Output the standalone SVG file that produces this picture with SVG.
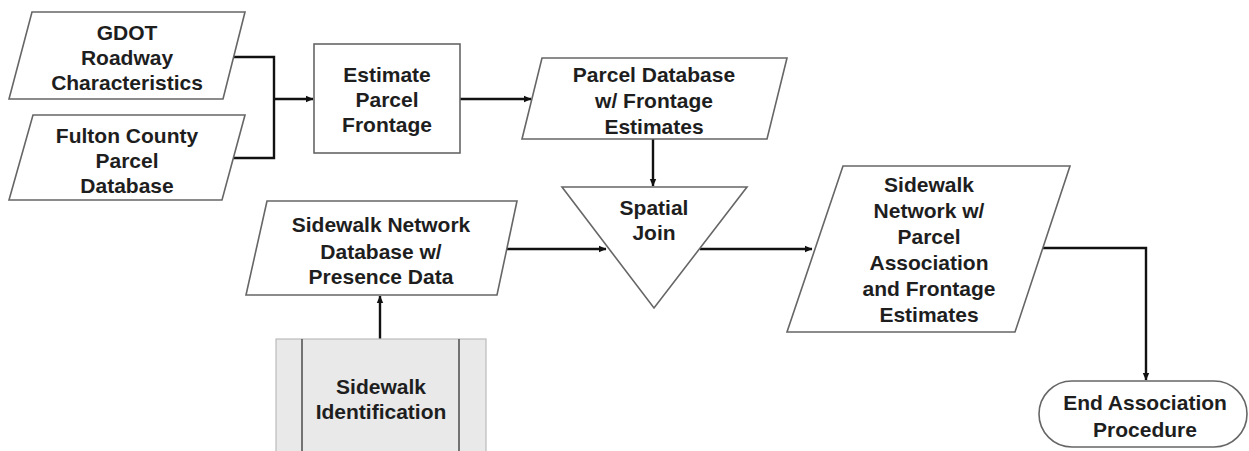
<svg xmlns="http://www.w3.org/2000/svg" width="1249" height="451" viewBox="0 0 1249 451">
<style>
.shape{fill:#fff;stroke:#666;stroke-width:1.6}
.proc{fill:#e9e9e9;stroke:#bbb;stroke-width:1.2}
.inner{stroke:#555;stroke-width:1.6}
.conn{fill:none;stroke:#111;stroke-width:2.4}
text{font-family:"Liberation Sans",Arial,sans-serif;font-weight:bold;font-size:21px;fill:#1e1e1e;text-anchor:middle}
</style>
<defs>
<marker id="arr" markerWidth="8" markerHeight="8" refX="7" refY="4" orient="auto" markerUnits="userSpaceOnUse">
<path d="M0,0.8 L7.5,4 L0,7.2 Z" fill="#111"/>
</marker>
</defs>
<rect width="1249" height="451" fill="#fff"/>
<g id="connectors">
<path class="conn" d="M233,57 H274 V158 H233"/>
<path class="conn" d="M274,99 H313" marker-end="url(#arr)"/>
<path class="conn" d="M460,99 H531" marker-end="url(#arr)"/>
<path class="conn" d="M653,139 V186" marker-end="url(#arr)"/>
<path class="conn" d="M505,249 H606" marker-end="url(#arr)"/>
<path class="conn" d="M700,249 H812" marker-end="url(#arr)"/>
<path class="conn" d="M380,339 V296" marker-end="url(#arr)"/>
<path class="conn" d="M1042,248 H1146 V380" marker-end="url(#arr)"/>
</g>
<g id="gdot">
<polygon class="shape" points="32,12 245,12 223,99 9,99"/>
<text x="127" y="40">GDOT</text>
<text x="127" y="65">Roadway</text>
<text x="127" y="90">Characteristics</text>
</g>
<g id="fulton">
<polygon class="shape" points="33,115 245,115 222,200 9,200"/>
<text x="127" y="143">Fulton County</text>
<text x="127" y="168">Parcel</text>
<text x="127" y="193">Database</text>
</g>
<g id="estimate">
<rect class="shape" x="314" y="44" width="146" height="109"/>
<text x="387" y="82">Estimate</text>
<text x="387" y="107">Parcel</text>
<text x="387" y="132">Frontage</text>
</g>
<g id="parceldb">
<polygon class="shape" points="542,58 787,58 767,139 522,139"/>
<text x="654" y="82">Parcel Database</text>
<text x="654" y="108">w/ Frontage</text>
<text x="654" y="134">Estimates</text>
</g>
<g id="spatialjoin">
<polygon class="shape" points="562,187 747,187 654,308"/>
<text x="654" y="215">Spatial</text>
<text x="654" y="240">Join</text>
</g>
<g id="sidewalkdb">
<polygon class="shape" points="267,201 517,201 497,295 246,295"/>
<text x="381" y="232">Sidewalk Network</text>
<text x="381" y="259">Database w/</text>
<text x="381" y="284">Presence Data</text>
</g>
<g id="sidewalkid">
<rect class="proc" x="276" y="339" width="210" height="120"/>
<line class="inner" x1="302" y1="339" x2="302" y2="451"/>
<line class="inner" x1="459" y1="339" x2="459" y2="451"/>
<text x="381" y="394">Sidewalk</text>
<text x="381" y="419">Identification</text>
</g>
<g id="sidewalkparcel">
<polygon class="shape" points="843,166 1070,166 1015,332 787,332"/>
<text x="929" y="192">Sidewalk</text>
<text x="929" y="218">Network w/</text>
<text x="929" y="244">Parcel</text>
<text x="929" y="270">Association</text>
<text x="929" y="296">and Frontage</text>
<text x="929" y="322">Estimates</text>
</g>
<g id="end">
<rect class="shape" x="1039" y="381" width="208" height="66" rx="33" ry="33"/>
<text x="1145" y="410">End Association</text>
<text x="1145" y="437">Procedure</text>
</g>
</svg>
